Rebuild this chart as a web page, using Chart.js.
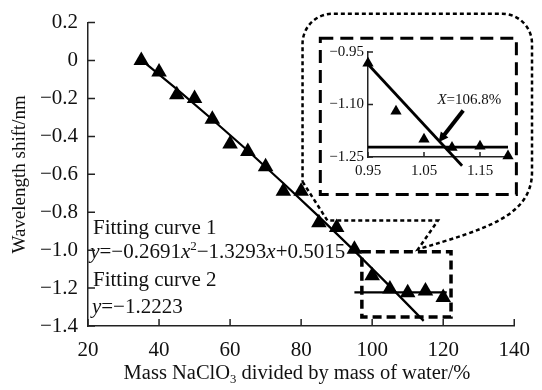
<!DOCTYPE html>
<html>
<head>
<meta charset="utf-8">
<script src="https://cdn.jsdelivr.net/npm/chart.js"></script>
<style>
  body { margin: 0; background: #fff; }
  #wrap { position: relative; width: 542px; height: 390px; }
  #mainChart { position: absolute; left: 0; top: 0; }
  #insetChart { position: absolute; left: 323px; top: 36px; }
</style>
</head>
<body>
<div id="wrap">
  <canvas id="mainChart" width="542" height="390"></canvas>
  <canvas id="insetChart" width="198" height="156"></canvas>
</div>
<script>
/* graphique principal : décalage de longueur d'onde
   + encart (zoom sur la zone 95-120 %) */

// données
const massRatio = [35, 40, 45, 50, 55, 60, 65, 70, 75, 80, 85, 90, 95, 100, 105, 110, 115, 120];
const shift = [0, -0.06, -0.18, -0.20, -0.31, -0.44, -0.48, -0.56, -0.69, -0.69, -0.855, -0.88, -0.995, -1.135, -1.205, -1.225, -1.215, -1.25];
const fit1X = [35, 45, 55, 65, 75, 85, 95, 105, 114.5];
const fit1Y = [0.003, -0.151, -0.311, -0.476, -0.647, -0.823, -1.004, -1.191, -1.373];
const fit2X = [95, 121];
const fit2Y = [-1.2223, -1.2223];
const xTicks = [20, 40, 60, 80, 100, 120, 140];
const yTicks = [0.2, 0, -0.2, -0.4, -0.6, -0.8, -1.0, -1.2, -1.4];

// encart
const insetX = [0.95, 1.00, 1.05, 1.10, 1.15, 1.20];
const insetY = [-0.982, -1.119, -1.199, -1.223, -1.219, -1.247];
const insetFit1X = [0.95, 1.118];
const insetFit1Y = [-0.985, -1.275];
const insetFit2X = [0.95, 1.20];
const insetFit2Y = [-1.222, -1.222];
const insetXTicks = [0.95, 1.05, 1.15];
const insetYTicks = [-0.95, -1.10, -1.25];

// textes
const fitLabels = ["Fitting curve 1", "Fitting curve 2"];
const eq1 = [{ t: "y", it: true }, { t: "=\u22120.2691" }, { t: "x", it: true }, { t: "2", sup: true },
  { t: "\u22121.3293" }, { t: "x", it: true }, { t: "+0.5015" }];
const eq2 = [{ t: "y", it: true }, { t: "=\u22121.2223" }];
const xTitle = [{ t: "Mass NaClO" }, { t: "3", sub: true }, { t: " divided by mass of water/%" }];
const yTitle = "Wavelength shift/nm";
const insetNote = [{ t: "X", it: true }, { t: "=106.8%" }];

const FONT = '"Liberation Serif", "Times New Roman", serif';
const INK = "#111";

const toPts = (xs, ys) => xs.map((v, i) => ({ x: v, y: ys[i] }));
const minus = s => s.replace("-", "\u2212");

// texte riche (italique, exposant, indice)
function richWidth(ctx, parts, size) {
  let w = 0;
  parts.forEach(p => {
    const s = p.sup || p.sub ? size * 0.62 : size;
    ctx.font = (p.it ? "italic " : "") + s + "px " + FONT;
    w += ctx.measureText(p.t).width;
  });
  return w;
}
function drawRich(ctx, parts, x, y, size) {
  let cx = x;
  parts.forEach(p => {
    const s = p.sup || p.sub ? size * 0.62 : size;
    ctx.font = (p.it ? "italic " : "") + s + "px " + FONT;
    const dy = p.sup ? -size * 0.3 : p.sub ? size * 0.28 : 0;
    ctx.fillText(p.t, cx, y + dy);
    cx += ctx.measureText(p.t).width;
  });
}

// graduations tournées vers l'intérieur
function innerTicks(len) {
  return {
    id: "innerTicks",
    afterDraw(chart) {
      const { ctx, chartArea: a, scales: { x, y } } = chart;
      ctx.save();
      ctx.strokeStyle = "#222";
      ctx.lineWidth = 1.5;
      ctx.beginPath();
      x.ticks.forEach(t => {
        const px = x.getPixelForValue(t.value);
        ctx.moveTo(px, a.bottom);
        ctx.lineTo(px, a.bottom - len);
      });
      y.ticks.forEach(t => {
        const py = y.getPixelForValue(t.value);
        ctx.moveTo(a.left, py);
        ctx.lineTo(a.left + len, py);
      });
      ctx.stroke();
      ctx.restore();
    }
  };
}

// cadres et bulle (coordonnées en unités des axes)
const zoomBox = { x1: 97.1, x2: 122.2, y1: -1.008, y2: -1.353 };
const insetBox = { x1: 85.4, x2: 140.6, y1: 0.117, y2: -0.707 };
const bubble = {
  left: 80.4, right: 145.0, top: 0.247,
  leftEnd: -0.639, rightEnd: -0.587,
  tail: [[87.4, -0.844], [118.5, -0.844], [112.9, -0.995]],
  c1: [131.9, -0.889], c2: [145.0, -0.821]
};

const decor = {
  id: "decor",
  beforeDatasetsDraw(chart) {
    const { ctx, scales: { x, y } } = chart;
    const P = (a, b) => [x.getPixelForValue(a), y.getPixelForValue(b)];
    ctx.save();
    ctx.strokeStyle = "#000";

    // bulle pointillée
    ctx.setLineDash([4, 3]);
    ctx.lineWidth = 2.5;
    ctx.beginPath();
    let p = P(bubble.left, bubble.leftEnd);
    ctx.moveTo(p[0], p[1]);
    bubble.tail.forEach(t => { const q = P(t[0], t[1]); ctx.lineTo(q[0], q[1]); });
    const c1 = P(bubble.c1[0], bubble.c1[1]);
    const c2 = P(bubble.c2[0], bubble.c2[1]);
    const re = P(bubble.right, bubble.rightEnd);
    ctx.bezierCurveTo(c1[0], c1[1], c2[0], c2[1], re[0], re[1]);
    const tr = P(bubble.right, bubble.top);
    const tl = P(bubble.left, bubble.top);
    ctx.arcTo(tr[0], tr[1], tl[0], tl[1], 30);
    ctx.arcTo(tl[0], tl[1], p[0], p[1], 30);
    ctx.lineTo(p[0], p[1]);
    ctx.stroke();

    // cadre de l'encart
    ctx.setLineDash([13, 7]);
    ctx.lineWidth = 3;
    let a = P(insetBox.x1, insetBox.y1), b = P(insetBox.x2, insetBox.y2);
    ctx.strokeRect(a[0], a[1], b[0] - a[0], b[1] - a[1]);

    // cadre de la zone agrandie
    ctx.setLineDash([9, 5]);
    ctx.lineWidth = 3.5;
    a = P(zoomBox.x1, zoomBox.y1); b = P(zoomBox.x2, zoomBox.y2);
    ctx.strokeRect(a[0], a[1], b[0] - a[0], b[1] - a[1]);
    ctx.restore();
  },
  afterDraw(chart) {
    const { ctx, chartArea: ar, scales: { x, y } } = chart;
    const size = 21;
    ctx.save();
    ctx.fillStyle = INK;
    ctx.textBaseline = "middle";
    ctx.font = size + "px " + FONT;
    ctx.fillText(fitLabels[0], x.getPixelForValue(21.4), y.getPixelForValue(-0.884));
    drawRich(ctx, eq1, x.getPixelForValue(20.6), y.getPixelForValue(-1.014), size);
    ctx.font = size + "px " + FONT;
    ctx.fillText(fitLabels[1], x.getPixelForValue(21.4), y.getPixelForValue(-1.160));
    drawRich(ctx, eq2, x.getPixelForValue(21.1), y.getPixelForValue(-1.301), size);

    // titre de l'axe x (avec indice)
    const tsize = 20.5;
    const w = richWidth(ctx, xTitle, tsize);
    drawRich(ctx, xTitle, 297 - w / 2, ar.bottom + 48, tsize);
    ctx.restore();
  }
};

new Chart(document.getElementById("mainChart"), {
  type: "scatter",
  data: {
    datasets: [
      {
        data: toPts(massRatio, shift),
        pointStyle: "triangle",
        pointRadius: 9,
        backgroundColor: "#000",
        borderColor: "#000",
        borderWidth: 0
      },
      {
        data: toPts(fit1X, fit1Y),
        showLine: true,
        pointRadius: 0,
        borderColor: "#000",
        borderWidth: 2.2
      },
      {
        data: toPts(fit2X, fit2Y),
        showLine: true,
        pointRadius: 0,
        borderColor: "#000",
        borderWidth: 2.2
      }
    ]
  },
  options: {
    responsive: false,
    animation: false,
    events: [],
    layout: { padding: { top: 19, right: 23, left: 0, bottom: 0 } },
    plugins: { legend: { display: false }, tooltip: { enabled: false } },
    scales: {
      x: {
        type: "linear",
        min: 20,
        max: 140,
        afterBuildTicks: s => { s.ticks = xTicks.map(v => ({ value: v })); },
        afterFit: s => { s.height = 64; },
        grid: { display: false, drawTicks: false },
        border: { display: true, color: "#222", width: 1.5 },
        ticks: {
          font: { family: FONT, size: 21 },
          color: INK,
          padding: 12,
          maxRotation: 0,
          autoSkip: false,
          callback: v => String(v)
        }
      },
      y: {
        type: "linear",
        min: -1.4,
        max: 0.2,
        afterBuildTicks: s => { s.ticks = yTicks.map(v => ({ value: v })); },
        afterFit: s => { s.width = 88; },
        grid: { display: false, drawTicks: false },
        border: { display: true, color: "#222", width: 1.5 },
        ticks: {
          font: { family: FONT, size: 21 },
          color: INK,
          padding: 10,
          autoSkip: false,
          callback: v => (Math.abs(v) < 1e-9 ? "0" : minus(v.toFixed(1)))
        },
        title: {
          display: true,
          text: yTitle,
          color: INK,
          font: { family: FONT, size: 19 },
          padding: { top: 9, bottom: 0 }
        }
      }
    }
  },
  plugins: [decor, innerTicks(7)]
});

/* encart : flèche + étiquette */
const insetDecor = {
  id: "insetDecor",
  afterDraw(chart) {
    const { ctx, scales: { x, y } } = chart;
    const x0 = x.getPixelForValue(1.120), y0 = y.getPixelForValue(-1.117);
    const x1 = x.getPixelForValue(1.076), y1 = y.getPixelForValue(-1.208);
    const ang = Math.atan2(y1 - y0, x1 - x0);
    const head = 11;
    ctx.save();
    ctx.strokeStyle = "#000";
    ctx.fillStyle = "#000";
    ctx.lineWidth = 4;
    ctx.beginPath();
    ctx.moveTo(x0, y0);
    ctx.lineTo(x1 - Math.cos(ang) * head * 0.8, y1 - Math.sin(ang) * head * 0.8);
    ctx.stroke();
    ctx.beginPath();
    ctx.moveTo(x1, y1);
    ctx.lineTo(x1 - Math.cos(ang - 0.45) * head, y1 - Math.sin(ang - 0.45) * head);
    ctx.lineTo(x1 - Math.cos(ang + 0.45) * head, y1 - Math.sin(ang + 0.45) * head);
    ctx.closePath();
    ctx.fill();

    ctx.fillStyle = INK;
    ctx.textBaseline = "middle";
    const size = 15;
    const w = richWidth(ctx, insetNote, size);
    drawRich(ctx, insetNote, x.getPixelForValue(1.131) - w / 2, y.getPixelForValue(-1.088), size);
    ctx.restore();
  }
};

new Chart(document.getElementById("insetChart"), {
  type: "scatter",
  data: {
    datasets: [
      {
        data: toPts(insetX, insetY),
        pointStyle: "triangle",
        pointRadius: 6.5,
        backgroundColor: "#000",
        borderColor: "#000",
        borderWidth: 0
      },
      {
        data: toPts(insetFit1X, insetFit1Y),
        showLine: true,
        pointRadius: 0,
        borderColor: "#000",
        borderWidth: 2.8
      },
      {
        data: toPts(insetFit2X, insetFit2Y),
        showLine: true,
        pointRadius: 0,
        borderColor: "#000",
        borderWidth: 2.8
      }
    ]
  },
  options: {
    responsive: false,
    animation: false,
    events: [],
    clip: false,
    layout: { padding: { top: 16, right: 13, left: 0, bottom: 0 } },
    plugins: { legend: { display: false }, tooltip: { enabled: false } },
    scales: {
      x: {
        type: "linear",
        min: 0.95,
        max: 1.2,
        afterBuildTicks: s => { s.ticks = insetXTicks.map(v => ({ value: v })); },
        afterFit: s => { s.height = 35; },
        grid: { display: false, drawTicks: false },
        border: { display: true, color: "#222", width: 1.5 },
        ticks: {
          font: { family: FONT, size: 15 },
          color: INK,
          padding: 5,
          maxRotation: 0,
          autoSkip: false,
          callback: v => v.toFixed(2)
        }
      },
      y: {
        type: "linear",
        min: -1.25,
        max: -0.95,
        afterBuildTicks: s => { s.ticks = insetYTicks.map(v => ({ value: v })); },
        afterFit: s => { s.width = 45; },
        grid: { display: false, drawTicks: false },
        border: { display: true, color: "#222", width: 1.5 },
        ticks: {
          font: { family: FONT, size: 15 },
          color: INK,
          padding: 4,
          autoSkip: false,
          callback: v => minus(v.toFixed(2))
        }
      }
    }
  },
  plugins: [insetDecor, innerTicks(5)]
});
</script>
</body>
</html>
